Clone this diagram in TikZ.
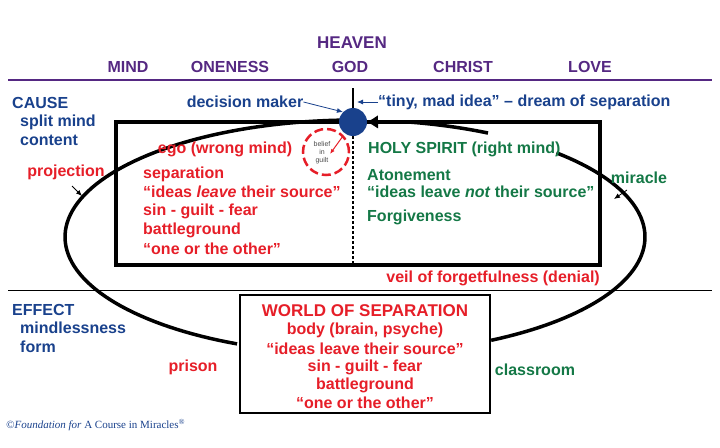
\documentclass[tikz,border=0pt]{standalone}
\usepackage{fontspec}
\usetikzlibrary{arrows.meta}
\setmainfont{Liberation Sans}
\newfontfamily\cserif{Liberation Serif}
\begin{document}
\definecolor{pur}{RGB}{85,40,130}
\definecolor{blu}{RGB}{25,65,140}
\definecolor{rd}{RGB}{230,30,40}
\definecolor{gr}{RGB}{20,120,70}
\begin{tikzpicture}[x=1pt,y=-1pt,
  t/.style={font=\fontsize{16}{17}\selectfont\bfseries, inner sep=0pt},
  tp/.style={t, text=pur}, tb/.style={t, text=blu}, tr/.style={t, text=rd}, tg/.style={t, text=gr},
  ell/.style={line width=3.5pt},
  sa/.style={-{Latex[length=6pt,width=5pt]}, line width=0.8pt}]
\useasboundingbox (0,0) rectangle (720,447);
% top
\node[tp, font=\fontsize{17}{18}\selectfont\bfseries] (heaven) at (352,43) {HEAVEN};
\node[tp] (mind) at (128,67) {MIND};
\node[tp] (one) at (230,67) {ONENESS};
\node[tp] (god) at (350,67) {GOD};
\node[tp] (christ) at (463,67) {CHRIST};
\node[tp] (love) at (590,67) {LOVE};
\draw[pur, line width=2pt] (8,80) -- (712,80);
\draw[line width=1pt] (8,290) -- (712,290);
% rectangle
\draw[line width=4.5pt] (116,122) rectangle (600,265);
% ellipse pieces
\draw[ell] plot[domain=90:246, samples=80] ({355+290*cos(\x)},{237-117*sin(\x)});
\draw[ell] plot[domain=-62:46, samples=60] ({355+290*cos(\x)},{237-117*sin(\x)});
\draw[ell] plot[domain=62.7:80, samples=30] ({355+290*cos(\x)},{237-117*sin(\x)});
\coordinate (ae) at (366,122);
\draw[ell, -{Latex[length=12pt,width=14pt]}] ({355+290*cos(80)},{237-117*sin(80)}) -- (ae);
% vertical
\node[circle, fill=blu, minimum size=28pt, inner sep=0pt] (dot) at (353,122) {};
\coordinate (vt) at (353,88);
\coordinate (vb) at (353,265);
\draw[line width=1.5pt] (vt) -- (dot);
\draw[line width=1.5pt, dash pattern=on 3pt off 2pt] (dot) -- (vb);
% belief in guilt
\node[circle, draw=rd, line width=2.5pt, dash pattern=on 9pt off 4pt, minimum size=46pt, inner sep=0pt] (bg) at (326,152) {};
\node[inner sep=0pt, align=center, font=\fontsize{7}{8}\selectfont, text=black!70] (bgt) at (322,153) {belief\\in\\guilt};
\coordinate (ba) at (343,136);
\coordinate (bb) at (330,154);
\draw[rd, -{Latex[length=5pt,width=4pt]}, line width=1pt] (ba) -- (bb);
% labels
\node[tb, anchor=west] (cause) at (12,103) {CAUSE};
\node[tb, anchor=west] (split) at (20,122) {split mind};
\node[tb, anchor=west] (content) at (20,140) {content};
\node[tb] (dm) at (245,102) {decision maker};
\draw[blu, sa] (dm.east) -- (dot.north west);
\node[tb, anchor=west] (tiny) at (378,102) {“tiny, mad idea” – dream of separation};
\draw[blu, sa] (tiny.west) -- (357,102);
\node[tr] (ego) at (225,149) {ego (wrong mind)};
\node[tg, anchor=west] (hs) at (368,149) {HOLY SPIRIT (right mind)};
\node[tr, anchor=west] (l1) at (143,174) {separation};
\node[tr, anchor=west] (l2) at (143,192) {“ideas \textit{leave} their source”};
\node[tr, anchor=west] (l3) at (143,211) {sin - guilt - fear};
\node[tr, anchor=west] (l4) at (143,230) {battleground};
\node[tr, anchor=west] (l5) at (143,249) {“one or the other”};
\node[tg, anchor=west] (r1) at (367,175) {Atonement};
\node[tg, anchor=west] (r2) at (367,192) {“ideas leave \textit{not} their source”};
\node[tg, anchor=west] (r3) at (367,217) {Forgiveness};
\node[tr] (proj) at (66,172) {projection};
\coordinate (pa) at (82,196);
\draw[sa] (72,186) -- (pa);
\node[tg] (mir) at (639,178) {miracle};
\coordinate (ma) at (614,199);
\draw[sa] (627,190) -- (ma);
\node[tr, anchor=east] (veil) at (600,278) {veil of forgetfulness (denial)};
\node[tb, anchor=west] (eff) at (12,310) {EFFECT};
\node[tb, anchor=west] (mless) at (20,328) {mindlessness};
\node[tb, anchor=west] (form) at (20,347) {form};
% world box
\node[draw, line width=1.5pt, fill=white, minimum width=250pt, minimum height=118pt, inner sep=0pt] (world) at (365,354) {};
\node[tr, font=\fontsize{17}{18}\selectfont\bfseries] (w1) at (365,311) {WORLD OF SEPARATION};
\node[tr] (w2) at (365,330) {body (brain, psyche)};
\node[tr] (w3) at (365,349) {“ideas leave their source”};
\node[tr] (w4) at (365,367) {sin - guilt - fear};
\node[tr] (w5) at (365,385) {battleground};
\node[tr] (w6) at (365,403) {“one or the other”};
\node[tr] (prison) at (193,367) {prison};
\node[tg] (class) at (535,370) {classroom};
\node[anchor=west, inner sep=0pt, font=\cserif\fontsize{11}{12}\selectfont\itshape, text=blu] (copy) at (6,425) {©Foundation for \textsc{A Course in Miracles}\textsuperscript{®}};
\end{tikzpicture}
\end{document}
